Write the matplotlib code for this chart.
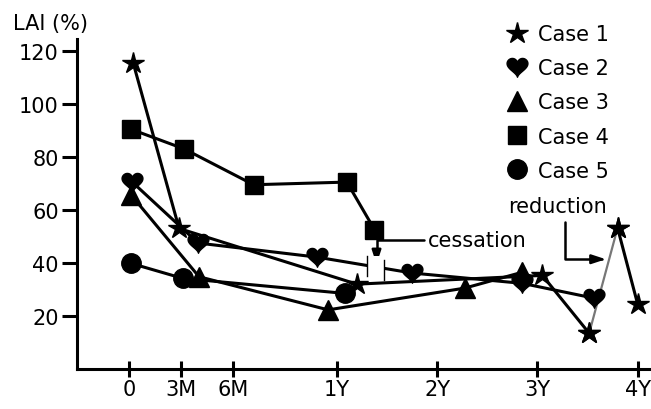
import numpy as np
import matplotlib
matplotlib.use("Agg")
from matplotlib import pyplot as plt
from matplotlib.path import Path
from matplotlib.lines import Line2D
from matplotlib.patches import Rectangle

plt.rcParams['font.family'] = ['DejaVu Sans']

# months after start, LAI (%)
case1_t = [0.25, 2.9, 14.4, 36.6, 42.2, 45.6, 48.0]
case1_v = [115.5, 53, 32, 35.3, 13.5, 53.2, 24.5]
case2_t = [0.2, 4.0, 10.85, 21.0, 34.2, 42.8]
case2_v = [70.5, 47.5, 42.2, 36.2, 32.3, 26.7]
case3_t = [0.15, 4.05, 11.5, 27.3, 34.2]
case3_v = [65.5, 34.8, 22.3, 30.5, 36.5]
case4_t = [0.1, 3.2, 7.2, 13.2, 16.5]
case4_v = [90.5, 83, 69.5, 70.5, 52.6]
case5_t = [0.15, 3.1, 13.0]
case5_v = [39.8, 34.2, 28.5]

xticks = [0, 3, 6, 12, 24, 36, 48]
xticklabels = ['0', '3M', '6M', '1Y', '2Y', '3Y', '4Y']
yticks = [20, 40, 60, 80, 100, 120]

# first year is drawn about twice as wide as the later years
K = 0.482


def fwd(t):
    t = np.asarray(t, dtype=float)
    return np.where(t <= 12, t, 12 + (t - 12) * K)


def inv(u):
    u = np.asarray(u, dtype=float)
    return np.where(u <= 12, u, 12 + (u - 12) / K)


# heart shaped marker
s = np.linspace(0, 2 * np.pi, 80)
hx = 16 * np.sin(s) ** 3
hy = 13 * np.cos(s) - 5 * np.cos(2 * s) - 2 * np.cos(3 * s) - np.cos(4 * s)
heart = Path(np.column_stack([hx, hy + 2]))

LW = 2.2
fig = plt.figure(figsize=(6.51, 4.10), dpi=100)
ax = fig.add_axes([0.118, 0.0976, 0.882, 0.805])
ax.set_xscale('function', functions=(fwd, inv))

mk = dict(color='k', mfc='k', mec='k', lw=LW, zorder=3)
ax.plot(case4_t, case4_v, marker='s', ms=12.5, **mk)
ax.plot(case5_t, case5_v, marker='o', ms=14, **mk)
ax.plot(case3_t, case3_v, marker='^', ms=14, **mk)
ax.plot(case2_t, case2_v, marker=heart, ms=15, **mk)
# case 1: the dose reduction segment is drawn in grey
ax.plot(case1_t[:5], case1_v[:5], marker='*', ms=16, **mk)
ax.plot(case1_t[4:6], case1_v[4:6], color='#777777', lw=1.6, zorder=2.9)
ax.plot(case1_t[5:], case1_v[5:], marker='*', ms=16, **mk)
ax.plot(case1_t[4:6], case1_v[4:6], ls='none', marker='*', ms=16,
        color='k', zorder=4)

# cessation break on the case 2 line
ax.add_patch(Rectangle((15.55, 34.3), 17.66 - 15.55, 8.5, fc='white',
                       ec='none', zorder=3.5))
ax.plot([15.55, 15.55], [35.0, 42.5], color='k', lw=1.0, zorder=3.6)
ax.plot([17.66, 17.66], [33.6, 41.2], color='k', lw=1.0, zorder=3.6)

ax.annotate('cessation', xy=(16.75, 39.5), xytext=(22.9, 48.5),
            fontsize=15, va='center', ha='left',
            arrowprops=dict(arrowstyle='-|>,head_length=0.55,head_width=0.18',
                            color='k', lw=1.8, shrinkA=1, shrinkB=0,
                            relpos=(0, 0.5),
                            connectionstyle='angle,angleA=0,angleB=90,rad=0'))
ax.annotate('reduction', xy=(44.2, 41.4), xytext=(38.4, 61.3),
            fontsize=15, va='center', ha='center',
            arrowprops=dict(arrowstyle='-|>,head_length=0.55,head_width=0.18',
                            color='k', lw=1.8, shrinkA=2, shrinkB=0,
                            relpos=(0.58, 0),
                            connectionstyle='angle,angleA=-90,angleB=0,rad=0'))

ax.set_xlim(-3.0, 49.6)
ax.set_ylim(0, 124.5)
ax.set_xticks(xticks)
ax.set_xticklabels(xticklabels)
ax.set_yticks(yticks)
ax.spines['top'].set_visible(False)
ax.spines['right'].set_visible(False)
ax.spines['left'].set_linewidth(LW)
ax.spines['bottom'].set_linewidth(LW)
ax.tick_params(axis='y', direction='out', length=11, width=2.2, pad=2,
               labelsize=15)
ax.tick_params(axis='x', direction='inout', length=11, width=2.2, pad=2,
               labelsize=15)

fig.text(13 / 651, 1 - 24 / 410, 'LAI (%)', fontsize=15, va='center',
         ha='left')

handles = [Line2D([], [], ls='none', marker='*', ms=16, color='k'),
           Line2D([], [], ls='none', marker=heart, ms=15, color='k'),
           Line2D([], [], ls='none', marker='^', ms=14, color='k'),
           Line2D([], [], ls='none', marker='s', ms=12.5, color='k'),
           Line2D([], [], ls='none', marker='o', ms=14, color='k')]
labels = ['Case 1', 'Case 2', 'Case 3', 'Case 4', 'Case 5']
fig.legend(handles, labels, loc='upper left',
           bbox_to_anchor=(506.6 / 651, 1 - 25 / 410), frameon=False,
           fontsize=15, handlelength=1.0, handletextpad=0.5,
           labelspacing=0.68, borderpad=0, borderaxespad=0)

fig.savefig('out.png', dpi=100)
